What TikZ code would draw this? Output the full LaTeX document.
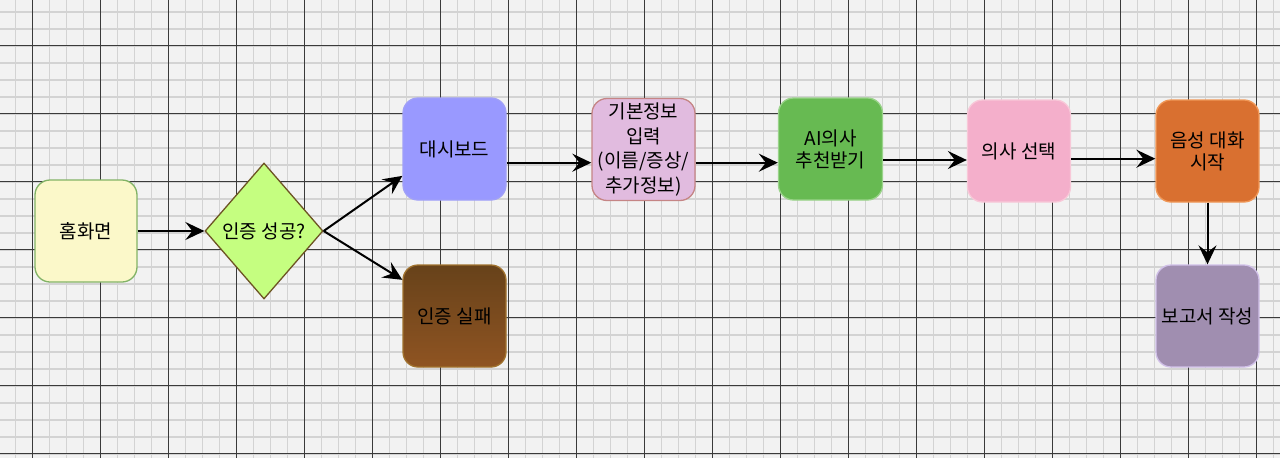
\documentclass[tikz,border=0pt]{standalone}
\usepackage{fontspec}
\newfontfamily\kr{Noto Sans CJK KR}
\usetikzlibrary{arrows.meta,shapes.geometric,calc}
\definecolor{bgc}{HTML}{F2F2F2}
\definecolor{minorc}{HTML}{D3D3D3}
\definecolor{majorc}{HTML}{3A3A3A}
\definecolor{homefill}{HTML}{FBF8C9}
\definecolor{homedraw}{HTML}{82B366}
\definecolor{diafill}{HTML}{C5FE80}
\definecolor{diadraw}{HTML}{6D5424}
\definecolor{dashfill}{HTML}{9999FF}
\definecolor{dashdraw}{HTML}{A0A0F8}
\definecolor{failtop}{HTML}{67421A}
\definecolor{failbot}{HTML}{8F5422}
\definecolor{faildraw}{HTML}{A0722E}
\definecolor{infofill}{HTML}{E1BBDF}
\definecolor{infodraw}{HTML}{C58585}
\definecolor{aifill}{HTML}{67BA52}
\definecolor{aidraw}{HTML}{9AD38A}
\definecolor{docfill}{HTML}{F4AFCB}
\definecolor{docdraw}{HTML}{F8C8D8}
\definecolor{voicefill}{HTML}{D97030}
\definecolor{voicedraw}{HTML}{F09858}
\definecolor{repfill}{HTML}{A08EB0}
\definecolor{repdraw}{HTML}{D0C0E8}
\begin{document}
\begin{tikzpicture}[x=1pt,y=-1pt,
  minorline/.style={minorc,line width=1.6pt},
  majorline/.style={majorc,line width=1pt},
  box/.style={rounded corners=15pt,minimum width=103pt,minimum height=102pt,
    inner sep=0pt,align=center,font=\kr\fontsize{19}{22}\selectfont,line width=1.3pt},
  dec/.style={diamond,minimum width=118pt,minimum height=136pt,inner sep=0pt,
    font=\kr\fontsize{19}{22}\selectfont,line width=1.3pt},
  conn/.style={line width=2pt,-{Stealth[length=19pt,width=18pt,inset=7pt]}}]
\useasboundingbox (0,0) rectangle (1280,458);
\fill[bgc] (0,0) rectangle (1280,458);
\foreach \i in {0,...,75} \draw[minorline] ({15.3+17*\i},0) -- ({15.3+17*\i},458);
\foreach \j in {0,...,26} \draw[minorline] (0,{11.7+17*\j}) -- (1280,{11.7+17*\j});
\foreach \i in {0,...,18} \draw[majorline] ({32.3+68*\i},0) -- ({32.3+68*\i},458);
\foreach \j in {0,...,6} \draw[majorline] (0,{45.7+68*\j}) -- (1280,{45.7+68*\j});

\node[box,fill=homefill,draw=homedraw,minimum width=102pt] (home) at (86,231) {홈화면};
\node[dec,fill=diafill,draw=diadraw] (dia) at (264,231) {인증 성공?};
\node[box,fill=dashfill,draw=dashdraw] (dash) at (454.5,149) {대시보드};
\node[box,top color=failtop,bottom color=failbot,draw=faildraw] (fail) at (454.5,316) {인증 실패};
\node[box,fill=infofill,draw=infodraw,font=\kr\fontsize{19}{24.5}\selectfont] (info) at (643.5,149.5) {기본정보\\입력\\(이름/증상/\\추가정보)};
\node[box,fill=aifill,draw=aidraw,minimum width=104pt] (ai) at (830.5,149) {AI의사\\추천받기};
\node[box,fill=docfill,draw=docdraw] (doc) at (1019,151) {의사 선택};
\node[box,fill=voicefill,draw=voicedraw] (voice) at (1207.5,151) {음성 대화\\시작};
\node[box,fill=repfill,draw=repdraw] (rep) at (1207.5,316) {보고서 작성};

\draw[conn] (home.east) -- (dia.west);
\draw[conn] (dia.east) -- ($(dash.south west)!0.24!(dash.north west)$);
\draw[conn] (dia.east) -- ($(fail.north west)!0.15!(fail.south west)$);
\draw[conn] ([yshift=-13.7pt]dash.east) -- ([yshift=-13.7pt]dash.east -| info.west);
\draw[conn] ([yshift=-13.2pt]info.east) -- ([yshift=-13.2pt]info.east -| ai.west);
\draw[conn] ([yshift=-11pt]ai.east) -- ([yshift=-11pt]ai.east -| doc.west);
\draw[conn] ([yshift=-7.7pt]doc.east) -- ([yshift=-7.7pt]doc.east -| voice.west);
\draw[conn] (voice.south) -- (rep.north);
\end{tikzpicture}
\end{document}
